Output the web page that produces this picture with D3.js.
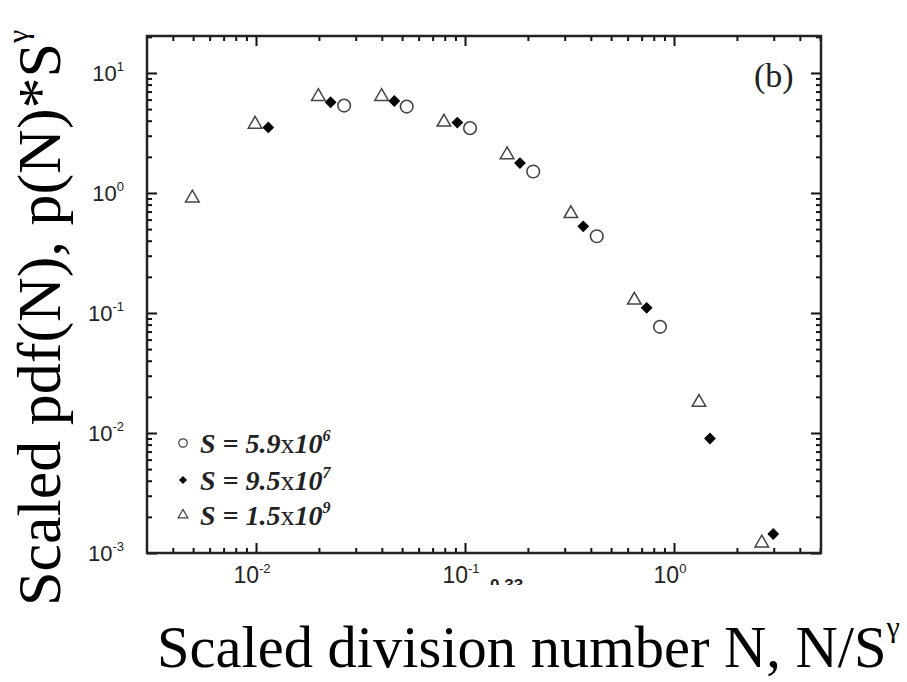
<!DOCTYPE html>
<html>
<head>
<meta charset="utf-8">
<script src="https://cdn.jsdelivr.net/npm/d3@7"></script>
<style>
  body { margin: 0; background: #fff; }
  svg { display: block; }
</style>
</head>
<body>
<svg id="chart" width="907" height="682"></svg>
<script>
// S = 5.9x10^6 (open circles)
const circleX = [0.0264, 0.0526, 0.1057, 0.212, 0.427, 0.857];
const circleY = [5.35, 5.25, 3.47, 1.51, 0.436, 0.0767];
// S = 9.5x10^7 (filled diamonds)
const diamondX = [0.01145, 0.02275, 0.0459, 0.0919, 0.1832, 0.368, 0.74, 1.486, 2.985];
const diamondY = [3.52, 5.70, 5.84, 3.86, 1.774, 0.527, 0.1104, 0.0090, 0.00144];
// S = 1.5x10^9 (open triangles)
const triangleX = [0.00496, 0.0099, 0.01987, 0.0399, 0.0793, 0.159, 0.321, 0.646, 1.317, 2.63];
const triangleY = [0.908, 3.74, 6.36, 6.36, 3.89, 2.08, 0.672, 0.1278, 0.018, 0.00121];

const xMajor = [0.01, 0.1, 1];
const xMajorExp = ["-2", "-1", "0"];
const yMajor = [10, 1, 0.1, 0.01, 0.001];
const yMajorExp = ["1", "0", "-1", "-2", "-3"];
const legendMant = ["5.9", "9.5", "1.5"];
const legendExp = ["6", "7", "9"];

const svg = d3.select("#chart");
const plotL = 147, plotR = 821, plotT = 36, plotB = 553;

const x = d3.scaleLog().domain([Math.pow(10, -2.5215), Math.pow(10, 0.7033)]).range([plotL, plotR]);
const y = d3.scaleLog().domain([0.001, Math.pow(10, 1.308)]).range([plotB, plotT]);

function minorTicks(scale) {
  const [a, b] = scale.domain();
  const out = [];
  for (let e = Math.floor(Math.log10(a)); e <= Math.ceil(Math.log10(b)); e++) {
    for (let m = 2; m <= 9; m++) {
      const v = m * Math.pow(10, e);
      if (v > a && v < b) out.push(v);
    }
  }
  return out;
}
const xMinor = minorTicks(x);
const yMinor = minorTicks(y);

// axes: ticks point inward on all four sides
function drawAxis(axisFn, scale, vals, size, transform) {
  const g = svg.append("g")
    .attr("transform", transform)
    .call(axisFn(scale).tickValues(vals).tickSize(size).tickFormat(""));
  g.select(".domain").remove();
  g.selectAll(".tick line").attr("stroke", "#111").attr("stroke-width", 2);
  return g;
}
drawAxis(d3.axisBottom, x, xMajor, -10, `translate(0,${plotB})`);
drawAxis(d3.axisBottom, x, xMinor, -5, `translate(0,${plotB})`);
drawAxis(d3.axisTop, x, xMajor, -10, `translate(0,${plotT})`);
drawAxis(d3.axisTop, x, xMinor, -5, `translate(0,${plotT})`);
drawAxis(d3.axisLeft, y, yMajor, -10, `translate(${plotL},0)`);
drawAxis(d3.axisLeft, y, yMinor, -5, `translate(${plotL},0)`);
drawAxis(d3.axisRight, y, yMajor, -10, `translate(${plotR},0)`);
drawAxis(d3.axisRight, y, yMinor, -5, `translate(${plotR},0)`);

// frame
svg.append("rect")
  .attr("x", plotL).attr("y", plotT)
  .attr("width", plotR - plotL).attr("height", plotB - plotT)
  .attr("fill", "none").attr("stroke", "#222").attr("stroke-width", 2.5);

// tick labels with superscript exponents
const tickFont = "'Liberation Sans', Arial, sans-serif";
xMajor.forEach((v, i) => {
  const t = svg.append("text")
    .attr("x", x(v) - 4).attr("y", 583)
    .attr("text-anchor", "middle")
    .attr("font-family", tickFont).attr("font-size", 23)
    .attr("fill", "#222");
  t.append("tspan").text("10");
  t.append("tspan").attr("dy", -10).attr("font-size", 13).text(xMajorExp[i]);
});
yMajor.forEach((v, i) => {
  const t = svg.append("text")
    .attr("x", 124).attr("y", y(v) + 8)
    .attr("text-anchor", "end")
    .attr("font-family", tickFont).attr("font-size", 22)
    .attr("fill", "#222");
  t.append("tspan").text("10");
  t.append("tspan").attr("dy", -10).attr("font-size", 13).text(yMajorExp[i]);
});

// partially cropped label under the axis
svg.append("clipPath").attr("id", "cut")
  .append("rect").attr("x", 480).attr("y", 570).attr("width", 60).attr("height", 15);
svg.append("text")
  .attr("x", 490).attr("y", 591)
  .attr("clip-path", "url(#cut)")
  .attr("font-family", tickFont).attr("font-size", 17).attr("font-weight", "bold")
  .attr("fill", "#222")
  .text("0.33");

// markers
const circleSym = d3.symbol().type(d3.symbolCircle).size(125);
const diamondSym = d3.symbol().type(d3.symbolSquare).size(70);
const triangleSym = d3.symbol().type(d3.symbolTriangle).size(80);

svg.append("g").selectAll("path")
  .data(d3.zip(circleX, circleY))
  .join("path")
  .attr("d", circleSym)
  .attr("transform", d => `translate(${x(d[0])},${y(d[1])})`)
  .attr("fill", "none").attr("stroke", "#444").attr("stroke-width", 1.6);

svg.append("g").selectAll("path")
  .data(d3.zip(diamondX, diamondY))
  .join("path")
  .attr("d", diamondSym)
  .attr("transform", d => `translate(${x(d[0])},${y(d[1])}) rotate(45)`)
  .attr("fill", "#000");

svg.append("g").selectAll("path")
  .data(d3.zip(triangleX, triangleY))
  .join("path")
  .attr("d", triangleSym)
  .attr("transform", d => `translate(${x(d[0])},${y(d[1])})`)
  .attr("fill", "none").attr("stroke", "#444").attr("stroke-width", 1.5);

// legend
const legendRows = [443, 480, 515];
const legendSyms = [
  d3.symbol().type(d3.symbolCircle).size(55),
  d3.symbol().type(d3.symbolSquare).size(32),
  d3.symbol().type(d3.symbolTriangle).size(40)
];
legendRows.forEach((ly, i) => {
  svg.append("path")
    .attr("d", legendSyms[i])
    .attr("transform", `translate(183,${ly})` + (i === 1 ? " rotate(45)" : ""))
    .attr("fill", i === 1 ? "#000" : "none")
    .attr("stroke", i === 1 ? "none" : "#444")
    .attr("stroke-width", 1.3);
  const t = svg.append("text")
    .attr("x", 200).attr("y", ly + 10)
    .attr("font-family", "'Liberation Serif', 'Times New Roman', serif")
    .attr("font-size", 28).attr("font-weight", "bold").attr("font-style", "italic")
    .attr("fill", "#222");
  t.append("tspan").text("S = " + legendMant[i]);
  t.append("tspan").attr("font-weight", "normal").attr("font-style", "normal").text("x");
  t.append("tspan").text("10");
  t.append("tspan").attr("dy", -12).attr("font-size", 16).text(legendExp[i]);
});

// panel label
svg.append("text")
  .attr("x", 754).attr("y", 87)
  .attr("font-family", "'Liberation Serif', 'Times New Roman', serif")
  .attr("font-size", 34).attr("fill", "#222")
  .text("(b)");

// axis titles
const titleFont = "'Liberation Serif', 'Times New Roman', serif";
const xt = svg.append("text")
  .attr("x", 157).attr("y", 667)
  .attr("font-family", titleFont).attr("font-size", 58.5).attr("fill", "#000");
xt.append("tspan").text("Scaled division number N, N/S");
xt.append("tspan").attr("dy", -30).attr("font-size", 30).text("γ");

const yt = svg.append("text")
  .attr("transform", "translate(60,606) rotate(-90)")
  .attr("font-family", titleFont).attr("font-size", 62).attr("fill", "#000");
yt.append("tspan").text("Scaled pdf(N), p(N)*S");
yt.append("tspan").attr("dy", -32).attr("font-size", 30).text("γ");
</script>
</body>
</html>
